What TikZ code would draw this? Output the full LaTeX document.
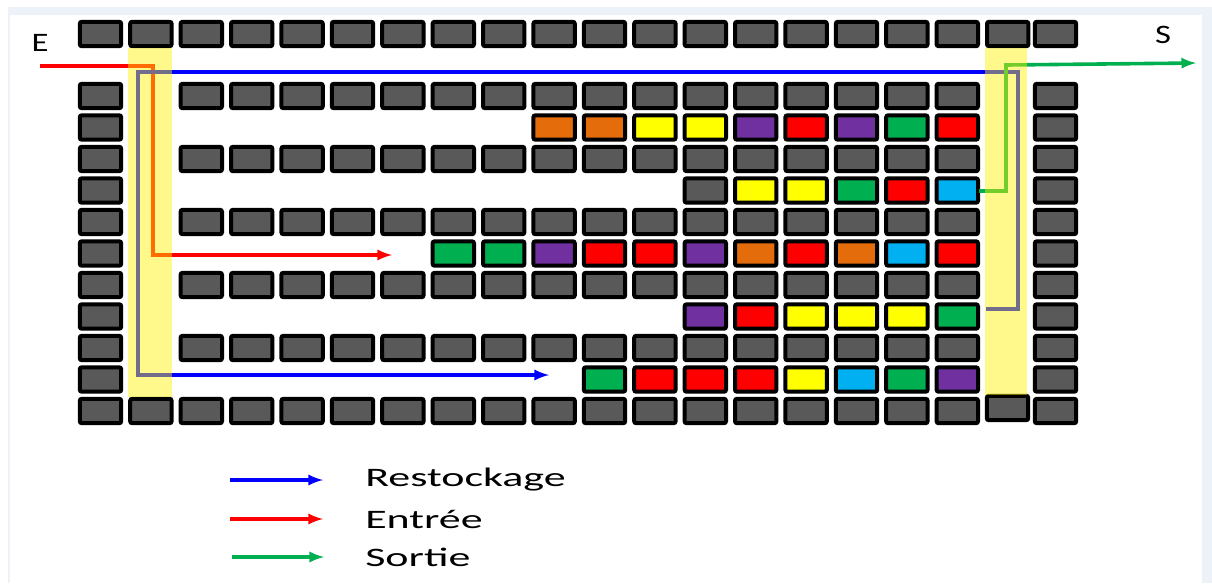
\documentclass[tikz,border=0pt]{standalone}
\usepackage{fontspec}
\setmainfont{Carlito}
\usetikzlibrary{arrows}

\definecolor{shelf}{HTML}{595959}
\definecolor{cOr}{HTML}{E46C0A}
\definecolor{cYe}{HTML}{FFFF00}
\definecolor{cPu}{HTML}{7030A0}
\definecolor{cRe}{HTML}{FF0000}
\definecolor{cGr}{HTML}{00B050}
\definecolor{cCy}{HTML}{00B0F0}
\definecolor{cBl}{HTML}{0000FF}
\definecolor{frameblue}{HTML}{EDF2F9}

\tikzset{
  rack/.style={draw=black, line width=3pt, rounded corners=1.5pt},
  aisle/.style={fill=yellow, fill opacity=0.45},
  route/.style={line width=2.7pt, -latex},
  lbl/.style={font=\fontsize{20}{24}\selectfont, inner sep=0pt},
}
% one storage slot, left edge #1, top edge #2, colour #3
\newcommand\slot[3]{\draw[rack, fill=#3] (#1+1.8,#2+1.8) rectangle (#1+43.2,#2+26.2);}

\begin{document}
\begin{tikzpicture}[x=0.75pt,y=-0.75pt]
  \useasboundingbox (0,0) rectangle (1212,583);
  \fill[frameblue] (8,7) rectangle (1212,583);
  \fill[white] (10,15) rectangle (1202,583);

  % top row
  \foreach \i in {0,...,18} \slot{78+50.4*\i}{20}{shelf};
  \slot{1033}{20}{shelf};
  % outer columns
  \foreach \y in {82,113.5,145,176.5,208,239.5,271,302.5,334,365.5,397} {
    \slot{78}{\y}{shelf};
    \slot{1033}{\y}{shelf};
  }
  \slot{128.4}{397}{shelf};
  \slot{985}{394}{shelf};
  % grey racks
  \foreach \y in {82,145,208,271,334,397}
    \foreach \i in {2,...,17} \slot{78+50.4*\i}{\y}{shelf};
  % stored goods
  \foreach \c [count=\k from 9] in {cOr,cOr,cYe,cYe,cPu,cRe,cPu,cGr,cRe}
    \slot{78+50.4*\k}{113.5}{\c};
  \foreach \c [count=\k from 12] in {shelf,cYe,cYe,cGr,cRe,cCy}
    \slot{78+50.4*\k}{176.5}{\c};
  \foreach \c [count=\k from 7] in {cGr,cGr,cPu,cRe,cRe,cPu,cOr,cRe,cOr,cCy,cRe}
    \slot{78+50.4*\k}{239.5}{\c};
  \foreach \c [count=\k from 12] in {cPu,cRe,cYe,cYe,cYe,cGr}
    \slot{78+50.4*\k}{302.5}{\c};
  \foreach \c [count=\k from 10] in {cGr,cRe,cRe,cRe,cYe,cCy,cGr,cPu}
    \slot{78+50.4*\k}{365.5}{\c};

  % routes
  \coordinate (E0) at (40,66);
  \coordinate (E1) at (153,66);
  \coordinate (E2) at (153,255);
  \coordinate (E3) at (392,255);
  \coordinate (R0) at (986,309);
  \coordinate (R1) at (1018,309);
  \coordinate (R2) at (1018,72);
  \coordinate (R3) at (138,72);
  \coordinate (R4) at (138,375);
  \coordinate (R5) at (549,375);
  \coordinate (S0) at (979,191);
  \coordinate (S1) at (1006,191);
  \coordinate (S2) at (1006,65);
  \coordinate (S3) at (1196,63);
  \draw[route, cRe] (E0) -- (E1) -- (E2) -- (E3);
  \draw[route, cBl] (R0) -- (R1) -- (R2) -- (R3) -- (R4) -- (R5);
  \draw[route, cGr] (S0) -- (S1) -- (S2) -- (S3);

  % aisles
  \fill[aisle] (128,48) rectangle (172,397);
  \fill[aisle] (985,48) rectangle (1027,395);

  \node[lbl] (labE) at (40,43) {\scalebox{1.3}[1]{E}};
  \node[lbl] (labS) at (1163,35) {\scalebox{1.3}[1]{S}};

  % legend
  \coordinate (L1a) at (230,480);
  \coordinate (L1b) at (323,480);
  \coordinate (L2a) at (230,519);
  \coordinate (L2b) at (323,519);
  \coordinate (L3a) at (232,557);
  \coordinate (L3b) at (324,557);
  \draw[route, cBl] (L1a) -- (L1b);
  \draw[route, cRe] (L2a) -- (L2b);
  \draw[route, cGr] (L3a) -- (L3b);
  \node[lbl, anchor=west] (legR) at (365,480) {\scalebox{1.65}[1]{Restockage}};
  \node[lbl, anchor=west] (legE) at (365,519) {\scalebox{1.65}[1]{Entrée}};
  \node[lbl, anchor=west] (legS) at (365,557) {\scalebox{1.65}[1]{Sortie}};
\end{tikzpicture}
\end{document}
